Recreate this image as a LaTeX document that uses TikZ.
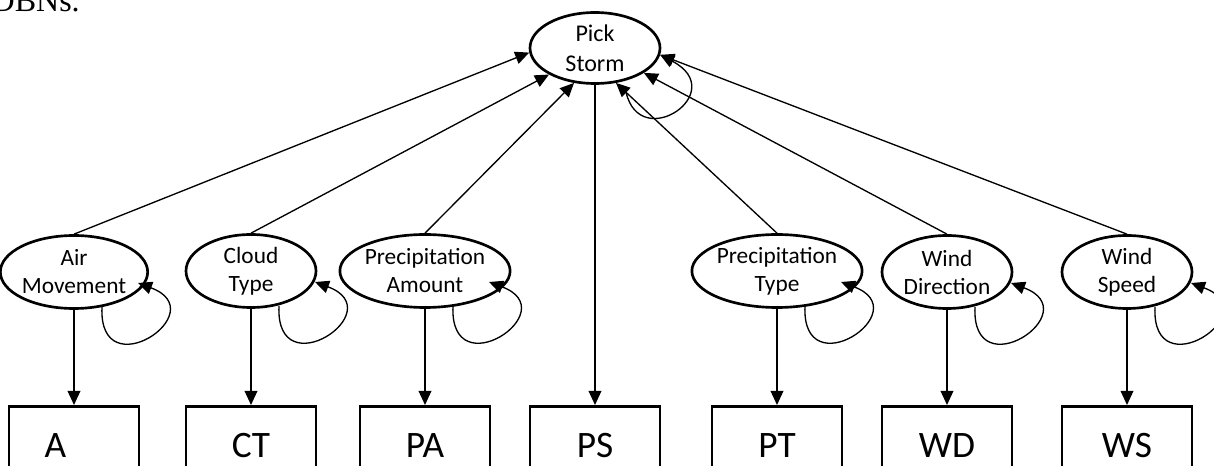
\documentclass[tikz,border=0pt]{standalone}
\usepackage{fontspec}
\setmainfont{Carlito}
\newfontfamily\seriffont{Liberation Serif}
\usetikzlibrary{arrows.meta,shapes.geometric}
\begin{document}
\begin{tikzpicture}[x=0.75pt,y=-0.75pt,
  ell/.style={ellipse, draw, line width=2pt, minimum width=97.5pt, minimum height=54.75pt,
    inner sep=0pt, align=center, font=\fontsize{17.5}{21}\selectfont},
  outbox/.style={rectangle, draw, line width=2pt, minimum width=97.5pt, minimum height=58.5pt,
    inner sep=0pt, anchor=north, font=\fontsize{28}{32}\selectfont},
  conn/.style={line width=1pt, -{Triangle[length=10.5pt,width=9.5pt]}},
]
\useasboundingbox (0,0) rectangle (1214,466);

\node[anchor=base east, inner sep=0pt, font=\seriffont\fontsize{24}{28}\selectfont] (cap) at (80,12) {DBNs.};

\node[ell, minimum height=53.25pt, font=\fontsize{18}{22.5}\selectfont] (ps) at (595,48) {Pick\\Storm};

\node[ell] (am) at (74,272) {Air\\Movement};
\node[ell] (ct) at (251,271) {Cloud\\Type};
\node[ell] (pa) at (425,271) {Precipitation\\Amount};
\node[ell] (pt) at (777,271) {Precipitation\\Type};
\node[ell] (wd) at (947,272) {Wind\\Direction};
\node[ell] (ws) at (1127,272) {Wind\\Speed};

\node[outbox] (bA) at (74,405) {\makebox[44pt][l]{A}};
\node[outbox] (bCT) at (251,405) {CT};
\node[outbox] (bPA) at (425,405) {PA};
\node[outbox] (bPS) at (595,405) {PS};
\node[outbox] (bPT) at (777,405) {PT};
\node[outbox] (bWD) at (947,405) {WD};
\node[outbox] (bWS) at (1127,405) {WS};

% arrows to Pick Storm
\draw[conn] (am.north) -- (ps.184);
\draw[conn] (ct.north) -- (ps.210);
\draw[conn] (pa.north) -- (ps.239);
\draw[conn] (pt.north) -- (ps.301);
\draw[conn] (wd.north) -- (ps.333);
\draw[conn] (ws.north) -- (ps.354);

% down arrows
\draw[conn] (am.south) -- (bA.north);
\draw[conn] (ct.south) -- (bCT.north);
\draw[conn] (pa.south) -- (bPA.north);
\draw[conn] (ps.south) -- (bPS.north);
\draw[conn] (pt.south) -- (bPT.north);
\draw[conn] (wd.south) -- (bWD.north);
\draw[conn] (ws.south) -- (bWS.north);

% self loops
\foreach \n in {am,ct,pa,pt,wd,ws}{
  \draw[conn] ([shift={(28,35)}]\n.center) .. controls ([shift={(24,118)}]\n.center)
    and ([shift={(142,40)}]\n.center) .. ([shift={(64,11)}]\n.center);
}
\draw[conn] ([shift={(31,44)}]ps.center) .. controls ([shift={(45,106)}]ps.center)
  and ([shift={(136,44)}]ps.center) .. (ps.354);
\end{tikzpicture}
\end{document}
